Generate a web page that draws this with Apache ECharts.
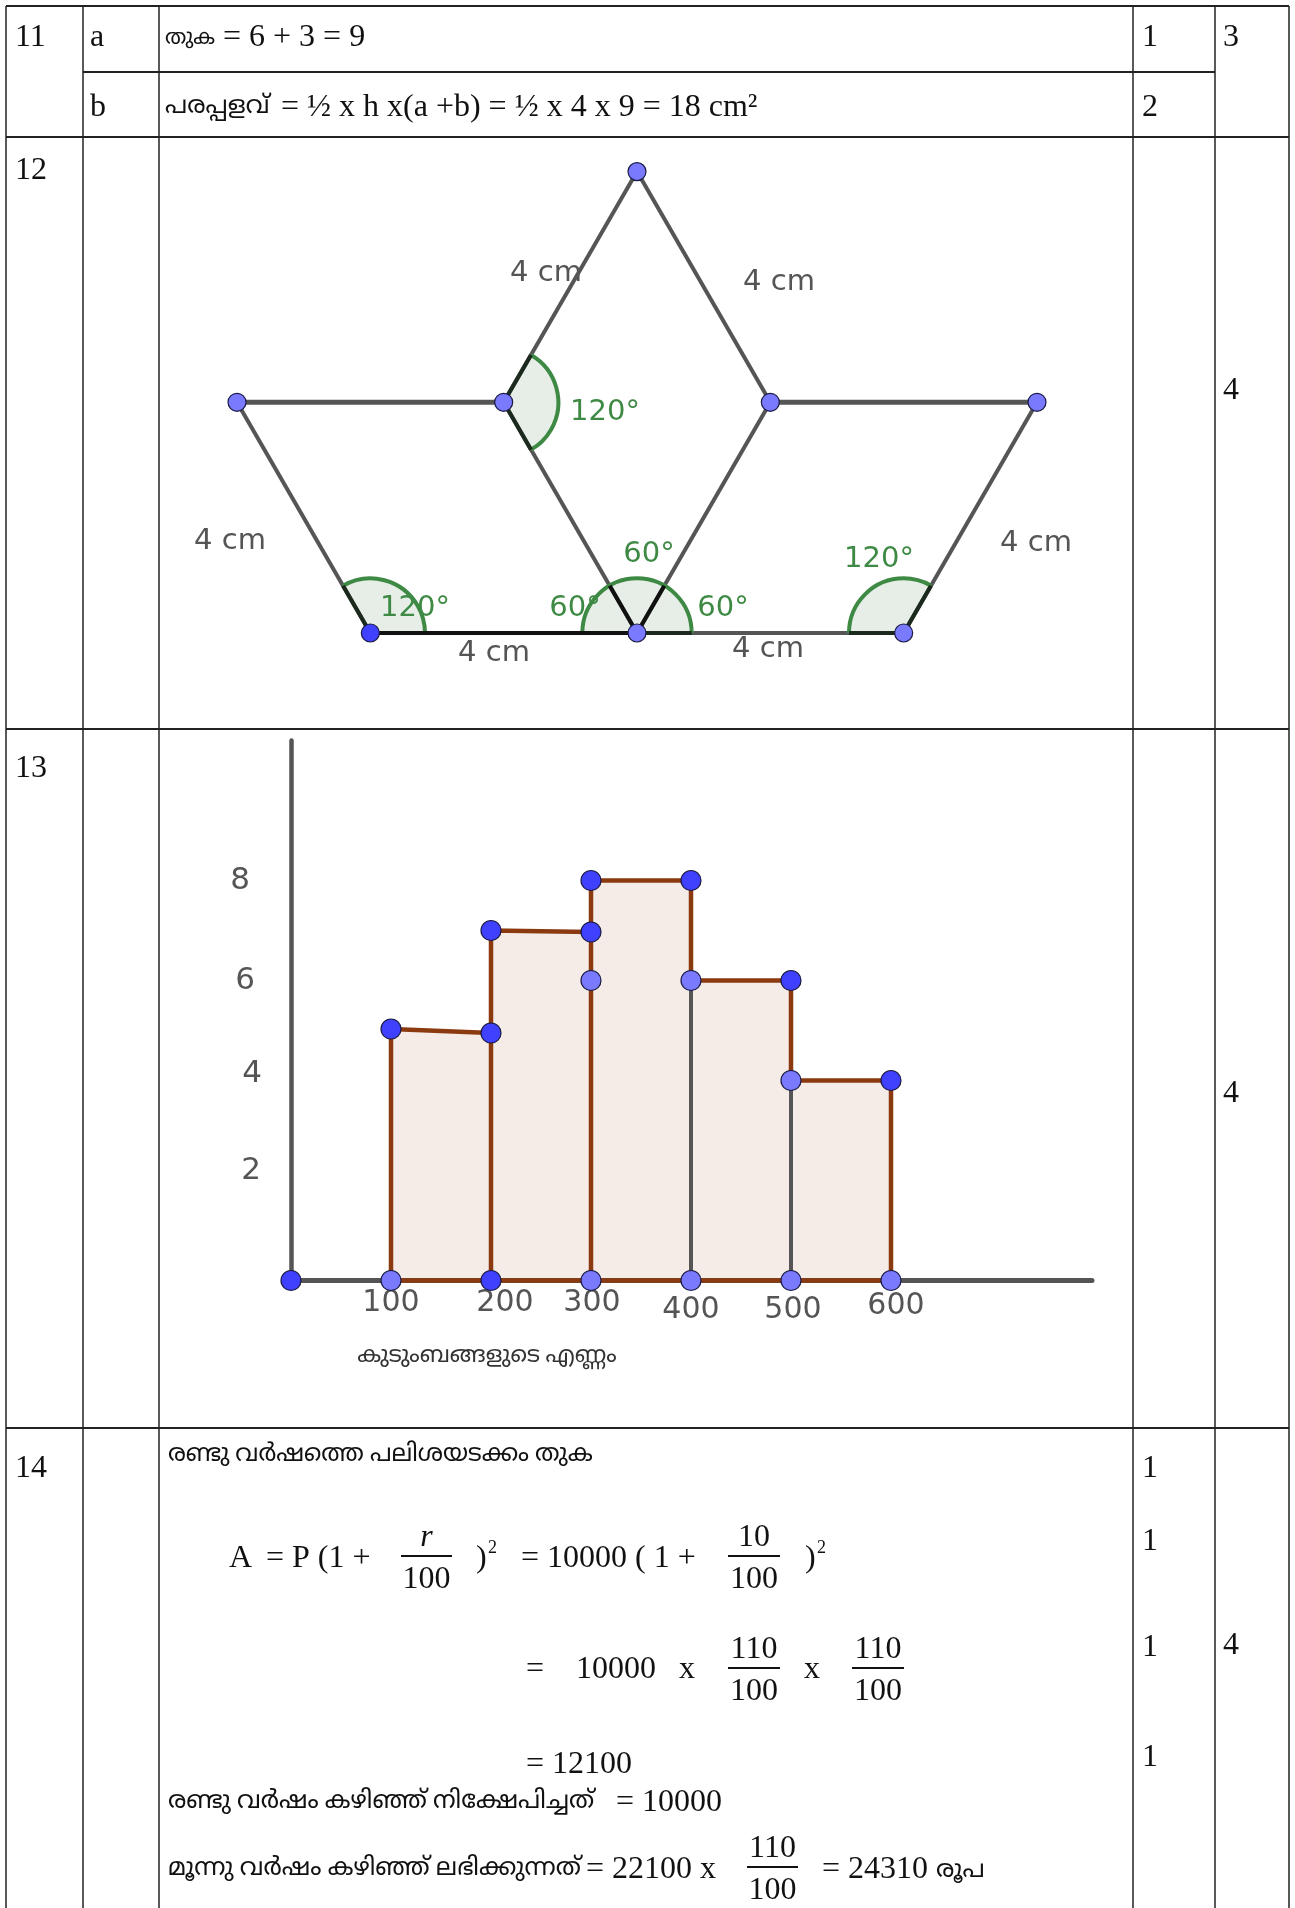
<!DOCTYPE html>
<html><head><meta charset="utf-8">
<style>html,body{margin:0;padding:0;background:#fff}#c{width:1295px;height:1908px}</style>
<script src="https://cdn.jsdelivr.net/npm/echarts@6/dist/echarts.min.js"></script>
</head><body><div id="c"></div>
<script>
// ---- histogram data (x = families, y = frequency)
const histXTicks = [100,200,300,400,500,600];
const histYTicks = [2,4,6,8];
const histOutline = [[100,0],[100,5.03],[200,4.95],[200,7],[300,6.97],[300,8],[400,8],[400,6],[500,6],[500,4],[600,4],[600,0],[100,0]];
const histInnerBrown = [[200,0,200,4.95],[300,0,300,6.97]];
const histInnerGrey = [[400,0,400,6],[500,0,500,4]];
const histDarkPts = [[0,0],[100,5.03],[200,4.95],[200,7],[300,6.97],[300,8],[400,8],[500,6],[600,4],[200,0]];
const histLightPts = [[100,0],[300,6],[400,6],[500,4],[300,0],[400,0],[500,0],[600,0]];
// ---- geometry data (cm)
const H = 3.464;
const geoThin = [[-2,H,0,0],[2,H,4,0],[2,H,4,2*H],[4,2*H,6,H],[6,H,4,0],[10,H,8,0],[4,0,8,0]];
const geoThick = [[-2,H,2,H],[6,H,10,H]];
const geoDark = [[0,0,4,0],[4,0,3.59,0.71],[4,0,4.41,0.71]];
const geoLightPts = [[-2,H],[2,H],[6,H],[10,H],[4,2*H],[4,0],[8,0]];
const geoDarkPts = [[0,0]];
const geoAngles = [[2,H,0.82,-60,60],[0,0,0.82,0,120],[4,0,0.82,0,180],[8,0,0.82,60,180]];

const serif = '"Liberation Serif",serif';
const mal = '"Liberation Serif","Noto Sans Malayalam","Noto Serif Malayalam",serif';
const geoFont = '"DejaVu Sans"';
const ink = '#111';
const S = 32, M = 24.8;

function T(text,x,y,size,opt){opt=opt||{};return {type:'text',z:50,style:{text:text,x:x,y:y,font:(opt.i?'italic ':'')+size+'px '+(opt.f||serif),fill:opt.c||ink,textAlign:opt.a||'left',textBaseline:'middle',verticalAlign:'middle'}};}
function N(text,x,y,size,opt){return T(text,x,y+2,size,opt);}
function L(x1,y1,x2,y2,w,c){return {type:'line',z:40,shape:{x1:x1,y1:y1,x2:x2,y2:y2},style:{stroke:c||'#222',lineWidth:w||1.5}};}
function F(top,bottom,x1,x2,y){const cx=(x1+x2)/2;return [N(top,cx,y-20,S,{a:'center',i:top==='r'}),N(bottom,cx,y+22,S,{a:'center'}),L(x1,y,x2,y,2,'#111')];}

const tableLines = [
 L(6,6,1289,6,2),L(83,72,1215,72,2),L(6,137,1289,137,2),L(6,729,1289,729,2),L(6,1428,1289,1428,2),
 L(6,6,6,1908),L(83,6,83,1908),L(159,6,159,1908),L(1133,6,1133,1908),L(1215,6,1215,1908),L(1289,6,1289,1908)
];
const texts = [
 N('11',15,36,S),N('a',90,36,S),T('തുക',165,38,21,{f:mal}),N('= 6 + 3 = 9',223,36,S),N('1',1142,36,S),N('3',1223,36,S),
 N('b',90,106,S),T('പരപ്പളവ്',165,106,M,{f:mal}),N('= ½ x h x(a +b) = ½ x 4 x 9 = 18 cm²',281,106,S),N('2',1142,106,S),
 N('12',15,169,S),N('4',1223,389,S),
 N('13',15,767,S),N('4',1223,1092,S),
 N('14',15,1467,S),N('4',1223,1644,S),
 N('1',1142,1467,S),N('1',1142,1540,S),N('1',1142,1646,S),N('1',1142,1756,S),
 T('രണ്ടു വർഷത്തെ പലിശയടക്കം തുക',168,1455,24.2,{f:mal}),
 N('A',229,1557,S),N('= P (1 +',266,1557,S),...F('r','100',401,452,1556),N(')',476,1557,S),N('2',488,1546,18),
 N('= 10000 ( 1 +',521,1557,S),...F('10','100',728,780,1556),N(')',805,1557,S),N('2',817,1546,18),
 N('=',526,1668,S),N('10000',576,1668,S),N('x',679,1668,S),...F('110','100',728,780,1668),N('x',804,1668,S),...F('110','100',852,904,1668),
 N('= 12100',526,1763,S),
 T('രണ്ടു വർഷം കഴിഞ്ഞ് നിക്ഷേപിച്ചത്',168,1801,M,{f:mal}),N('= 10000',616,1801,S),
 T('മൂന്നു വർഷം കഴിഞ്ഞ് ലഭിക്കുന്നത്',168,1868,M,{f:mal}),N('= 22100 x',586,1868,S),...F('110','100',747,798,1867),
 N('= 24310',822,1868,S),T('രൂപ',936,1870,M,{f:mal})
];
const gc='#555', ga='#3e8a45';
const geoLabels = [
 ['4 cm',546,273],['4 cm',779,282],['4 cm',230,541],['4 cm',1036,543],['4 cm',494,653],['4 cm',768,649]
].map(a=>T(a[0],a[1],a[2],29,{f:geoFont,c:gc,a:'center'})).concat([
 ['120°',605,412],['120°',415,608],['60°',649,554],['60°',575,608],['60°',723,608],['120°',879,559]
].map(a=>T(a[0],a[1],a[2],29,{f:geoFont,c:ga,a:'center'})));
const histTitle = [T('കുടുംബങ്ങളുടെ എണ്ണം',487,1356,23,{f:mal,c:'#333',a:'center'})];

function segs(data,color,width,x,y,z){return {type:'custom',xAxisIndex:x,yAxisIndex:y,z:z,clip:false,silent:true,data:data,
 encode:{x:[0,2],y:[1,3]},
 renderItem:function(p,api){const a=api.coord([api.value(0),api.value(1)]),b=api.coord([api.value(2),api.value(3)]);
  return {type:'line',shape:{x1:a[0],y1:a[1],x2:b[0],y2:b[1]},style:{stroke:color,lineWidth:width,fill:null}};}};}
function pts(data,color,size,x,y){return {type:'scatter',xAxisIndex:x,yAxisIndex:y,z:20,clip:false,silent:true,data:data,symbolSize:size,
 itemStyle:{color:color,borderColor:'#1a1a44',borderWidth:1.2,opacity:1}};}

const xLabelStyles = {100:[0,0,0,0],200:[0,0,0,28],300:[0,0,0,2],400:[7,0,0,0],500:[7,0,0,4],600:[3,0,0,10]};
const yLabelStyles = {2:[0,1,20,0],4:[0,0,14,0],6:[0,7,0,0],8:[0,12,0,0]};
const rich = {};
histXTicks.forEach(v=>rich['x'+v]={padding:xLabelStyles[v],fontFamily:geoFont,fontSize:30,color:gc,verticalAlign:'top'});
histYTicks.forEach(v=>rich['y'+v]={padding:yLabelStyles[v],fontFamily:geoFont,fontSize:31,color:gc});

const chart = echarts.init(document.getElementById('c'),null,{renderer:'canvas',width:1295,height:1908});
chart.setOption({
 animation:false,backgroundColor:'#fff',
 grid:[{left:237,top:171.6,width:800,height:461.4},{left:291,top:740.5,width:801,height:540}],
 xAxis:[
  {gridIndex:0,type:'value',min:-2,max:10,show:false,splitLine:{show:false}},
  {gridIndex:1,type:'value',min:0,max:801,splitLine:{show:false},
   axisLine:{show:true,onZero:false,lineStyle:{color:gc,width:5}},axisTick:{show:false},
   axisLabel:{show:true,margin:8,customValues:histXTicks,formatter:v=>'{x'+v+'|'+v+'}',rich:rich,hideOverlap:false}}
 ],
 yAxis:[
  {gridIndex:0,type:'value',min:0,max:6.928,show:false,splitLine:{show:false}},
  {gridIndex:1,type:'value',min:0,max:10.8,splitLine:{show:false},
   axisLine:{show:true,onZero:false,lineStyle:{color:gc,width:4.5}},axisTick:{show:false},
   axisLabel:{show:true,margin:29,customValues:histYTicks,formatter:v=>'{y'+v+'|'+v+'}',rich:rich,hideOverlap:false}}
 ],
 series:[
  {type:'custom',xAxisIndex:0,yAxisIndex:0,z:5,clip:false,silent:true,data:geoAngles,encode:{x:0,y:1},
   renderItem:function(p,api){
    const c=api.coord([api.value(0),api.value(1)]),r=api.size([api.value(2),0])[0];
    const a0=api.value(3)*Math.PI/180,a1=api.value(4)*Math.PI/180;
    const s=-a1,e=-a0;
    const end=a=>({x1:c[0],y1:c[1],x2:c[0]+r*Math.cos(a),y2:c[1]-r*Math.sin(a)});
    return {type:'group',children:[
     {type:'sector',shape:{cx:c[0],cy:c[1],r:r,r0:0,startAngle:s,endAngle:e,clockwise:true},style:{fill:'rgba(30,100,40,0.11)',stroke:null}},
     {type:'arc',shape:{cx:c[0],cy:c[1],r:r,startAngle:s,endAngle:e,clockwise:true},style:{fill:null,stroke:ga,lineWidth:4}},
     {type:'line',z2:5,shape:end(a0),style:{stroke:'#1c2a1e',lineWidth:4,fill:null}},
     {type:'line',z2:5,shape:end(a1),style:{stroke:'#1c2a1e',lineWidth:4,fill:null}}
    ]};}},
  segs(geoThin,'#555',4,0,0,4),
  segs(geoThick,'#555',5,0,0,4),
  segs(geoDark,'#111',4,0,0,11),
  pts(geoLightPts,'#7a7aff',18,0,0),
  pts(geoDarkPts,'#4040ff',18,0,0),
  {type:'line',xAxisIndex:1,yAxisIndex:1,z:6,clip:false,silent:true,data:histOutline,showSymbol:false,symbol:'none',
   lineStyle:{color:'#8b3a10',width:4.5},areaStyle:{color:'rgba(153,71,30,0.1)',opacity:1}},
  segs(histInnerGrey,'#555',4,1,1,7),
  segs(histInnerBrown,'#8b3a10',4.5,1,1,7),
  pts(histLightPts,'#7a7aff',20,1,1),
  pts(histDarkPts,'#4040ff',20,1,1)
 ],
 graphic:{elements:[].concat(tableLines,texts,geoLabels,histTitle)}
});
</script></body></html>
